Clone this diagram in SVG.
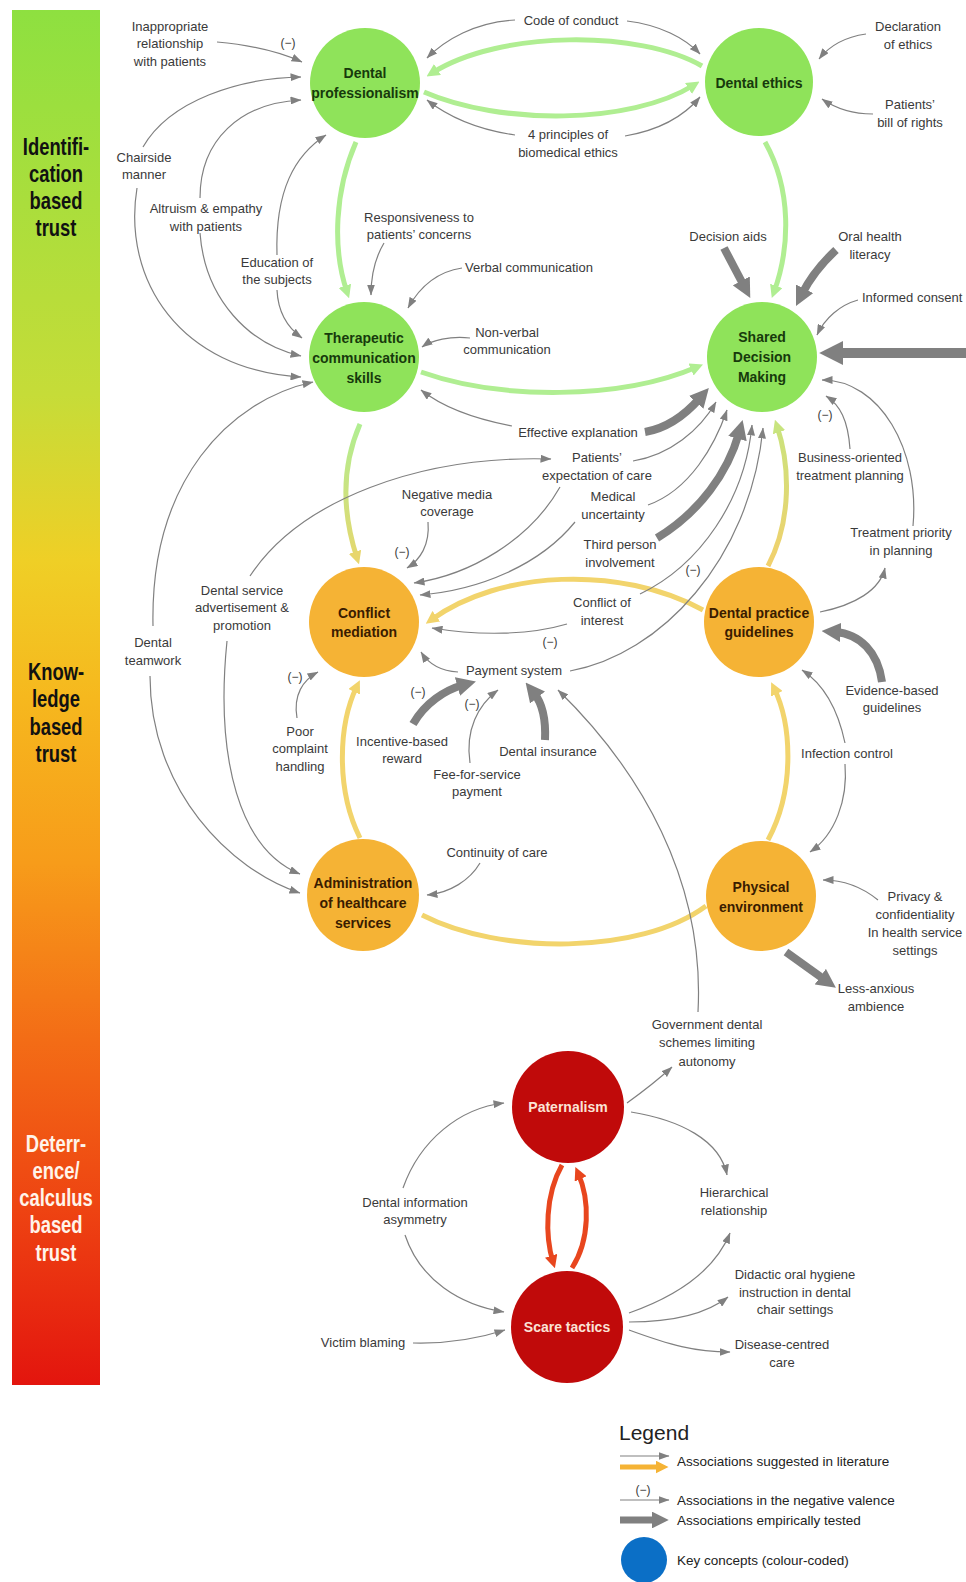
<svg xmlns="http://www.w3.org/2000/svg" width="966" height="1582" viewBox="0 0 966 1582">
<defs>
<style>
.lbl{font-family:"Liberation Sans",Arial,sans-serif;font-size:13px;fill:#3a3a3a;text-anchor:middle}
.neg{font-family:"Liberation Sans",Arial,sans-serif;font-size:12px;fill:#3a3a3a;text-anchor:middle}
.nt{font-family:"Liberation Sans",Arial,sans-serif;font-size:14px;font-weight:bold;text-anchor:middle}
.ng{fill:#8fe35a}
.no{fill:#f5b335}
.nr{fill:#c00a0a}
.tg{fill:#173a0c}
.to{fill:#3a1c00}
.tr{fill:#fbe3d6}
.bar{font-family:"Liberation Sans",Arial,sans-serif;font-size:23px;font-weight:bold;text-anchor:middle}
.ca{fill:none;stroke:#808080;stroke-width:1.2;marker-end:url(#ah)}
.ct{fill:none;stroke:#808080;stroke-width:8;marker-end:url(#ahT)}
.cg{fill:none;stroke:#b0ee92;stroke-width:5;marker-end:url(#ahG)}
.cy{fill:none;stroke:#f2d46c;stroke-width:5;marker-end:url(#ahY)}
.cr{fill:none;stroke:#e8461e;stroke-width:5;marker-end:url(#ahR)}
.leg{font-family:"Liberation Sans",Arial,sans-serif;font-size:13.5px;fill:#222}
</style>
<linearGradient id="trustGrad" x1="0" y1="10" x2="0" y2="1385" gradientUnits="userSpaceOnUse">
<stop offset="0" stop-color="#8ee040"/>
<stop offset="0.28" stop-color="#c6dc38"/>
<stop offset="0.40" stop-color="#efcf26"/>
<stop offset="0.50" stop-color="#f6b81e"/>
<stop offset="0.62" stop-color="#f79c1a"/>
<stop offset="0.75" stop-color="#f36c16"/>
<stop offset="0.87" stop-color="#ee4412"/>
<stop offset="1" stop-color="#e3150e"/>
</linearGradient>
<linearGradient id="gToY" x1="0" y1="424" x2="0" y2="566" gradientUnits="userSpaceOnUse">
<stop offset="0" stop-color="#b0ee92"/>
<stop offset="1" stop-color="#e8d66c"/>
</linearGradient>
<linearGradient id="yToG" x1="0" y1="566" x2="0" y2="420" gradientUnits="userSpaceOnUse">
<stop offset="0" stop-color="#f2d06c"/>
<stop offset="1" stop-color="#c8e47e"/>
</linearGradient>
<marker id="ah" viewBox="0 0 11 8" refX="10.5" refY="4" markerWidth="11" markerHeight="8" markerUnits="userSpaceOnUse" orient="auto">
<path d="M0,0 L11,4 L0,8 z" fill="#808080"/>
</marker>
<marker id="ahT" viewBox="0 0 10 10" refX="3" refY="5" markerWidth="2.4" markerHeight="2.4" markerUnits="strokeWidth" orient="auto">
<path d="M0,0 L10,5 L0,10 z" fill="#808080"/>
</marker>
<marker id="ahG" viewBox="0 0 10 10" refX="5" refY="5" markerWidth="2.6" markerHeight="2.6" markerUnits="strokeWidth" orient="auto">
<path d="M0,0 L10,5 L0,10 z" fill="#b0ee92"/>
</marker>
<marker id="ahGY" viewBox="0 0 10 10" refX="5" refY="5" markerWidth="2.6" markerHeight="2.6" markerUnits="strokeWidth" orient="auto">
<path d="M0,0 L10,5 L0,10 z" fill="#e8d66c"/>
</marker>
<marker id="ahYG" viewBox="0 0 10 10" refX="5" refY="5" markerWidth="2.6" markerHeight="2.6" markerUnits="strokeWidth" orient="auto">
<path d="M0,0 L10,5 L0,10 z" fill="#c8e47e"/>
</marker>
<marker id="ahY" viewBox="0 0 10 10" refX="5" refY="5" markerWidth="2.6" markerHeight="2.6" markerUnits="strokeWidth" orient="auto">
<path d="M0,0 L10,5 L0,10 z" fill="#f2d46c"/>
</marker>
<marker id="ahR" viewBox="0 0 10 10" refX="5" refY="5" markerWidth="2.6" markerHeight="2.6" markerUnits="strokeWidth" orient="auto">
<path d="M0,0 L10,5 L0,10 z" fill="#e8461e"/>
</marker>
<marker id="ahO" viewBox="0 0 10 10" refX="5" refY="5" markerWidth="2.6" markerHeight="2.6" markerUnits="strokeWidth" orient="auto">
<path d="M0,0 L10,5 L0,10 z" fill="#f5b335"/>
</marker>
</defs>

<rect width="966" height="1582" fill="#ffffff"/>

<!-- trust scale bar -->
<g id="trust-scale">
<rect x="12" y="10" width="88" height="1375" fill="url(#trustGrad)"/>
<!-- condensed bold lettering -->
<g transform="translate(56,0) scale(0.8,1)">
<text class="bar" fill="#111"><tspan x="0" y="155">Identifi-</tspan><tspan x="0" y="182">cation</tspan><tspan x="0" y="209">based</tspan><tspan x="0" y="236">trust</tspan></text>
<text class="bar" fill="#111"><tspan x="0" y="680">Know-</tspan><tspan x="0" y="707">ledge</tspan><tspan x="0" y="735">based</tspan><tspan x="0" y="762">trust</tspan></text>
<text class="bar" fill="#fff4ea"><tspan x="0" y="1152">Deterr-</tspan><tspan x="0" y="1179">ence/</tspan><tspan x="0" y="1206">calculus</tspan><tspan x="0" y="1233">based</tspan><tspan x="0" y="1261">trust</tspan></text>
</g>
</g>

<!-- connectors -->
<g id="connectors">
<!-- key concept links -->
<path class="cg" d="M702,66 C640,30 500,30 432,73"/>
<path class="cg" d="M424,92 C500,125 630,125 694,85"/>
<path class="cg" d="M356,142 C335,190 332,248 347,292"/>
<path class="cg" d="M765,142 C792,190 790,248 774,292"/>
<path class="cg" d="M421,372 C500,400 620,400 697,367"/>
<path fill="none" stroke="url(#gToY)" stroke-width="5" marker-end="url(#ahGY)" d="M360,424 C340,470 343,515 357,558"/>
<path fill="none" stroke="url(#yToG)" stroke-width="5" marker-end="url(#ahYG)" d="M768,566 C792,520 790,465 777,426"/>
<path class="cy" d="M703,610 C620,565 500,570 431,620"/>
<path class="cy" d="M360,838 C336,790 338,725 357,686"/>
<path class="cy" d="M768,840 C795,790 792,725 774,688"/>
<path fill="none" stroke="#f2d46c" stroke-width="5" d="M422,915 C500,955 640,955 706,906"/>
<path class="cr" d="M562,1165 C545,1195 545,1236 553,1262"/>
<path class="cr" d="M572,1268 C590,1240 590,1200 578,1173"/>

<!-- empirically tested associations -->
<path class="ct" d="M645,432 C668,428 686,414 700,398"/>
<path class="ct" d="M657,538 C700,512 728,472 739,433"/>
<path class="ct" d="M724,248 L744,286"/>
<path class="ct" d="M836,250 C822,263 810,278 802,294"/>
<path class="ct" style="stroke-width:10" d="M966,353 L836,353"/>
<path class="ct" d="M882,682 C878,652 860,634 835,632"/>
<path class="ct" d="M786,952 L825,980"/>
<path class="ct" d="M413,724 C425,703 445,690 463,685"/>
<path class="ct" d="M545,740 C546,718 542,703 534,693"/>

<!-- associations suggested in literature -->
<path class="ca" d="M217,42 C250,45 280,52 302,62"/>
<path class="ca" d="M143,147 C170,100 240,78 301,77"/>
<path class="ca" d="M137,188 C122,280 180,370 301,377"/>
<path class="ca" d="M200,198 C200,140 240,103 301,100"/>
<path class="ca" d="M200,233 C205,300 250,345 301,356"/>
<path class="ca" d="M277,255 C275,190 295,155 326,135"/>
<path class="ca" d="M277,290 C278,312 288,328 302,338"/>
<path class="ca" d="M153,626 C150,480 230,400 313,382"/>
<path class="ca" d="M150,676 C150,790 230,870 300,893"/>
<path class="ca" d="M250,576 C300,500 420,455 551,459"/>
<path class="ca" d="M227,641 C215,760 240,850 300,874"/>
<path class="ca" d="M297,718 C293,695 303,680 318,672"/>
<path class="ca" d="M384,243 C375,258 371,275 371,295"/>
<path class="ca" d="M462,268 C435,272 418,290 408,308"/>
<path class="ca" d="M470,338 C450,336 432,340 422,347"/>
<path class="ca" d="M512,426 C470,418 440,405 421,390"/>
<path class="ca" d="M633,461 C670,455 700,430 716,402"/>
<path class="ca" d="M560,487 C530,540 470,575 414,583"/>
<path class="ca" d="M648,505 C690,490 715,445 727,410"/>
<path class="ca" d="M575,522 C540,565 480,590 420,595"/>
<path class="ca" d="M640,594 C700,565 745,500 752,425"/>
<path class="ca" d="M567,624 C530,635 480,636 432,628"/>
<path class="ca" d="M458,672 C440,671 428,663 421,652"/>
<path class="ca" d="M570,671 C660,655 750,560 763,428"/>
<path class="ca" d="M850,449 C848,420 840,405 826,396"/>
<path class="ca" d="M913,526 C920,450 880,380 822,380"/>
<path class="ca" d="M820,612 C855,605 880,590 885,568"/>
<path class="ca" d="M845,743 C838,710 825,685 802,670"/>
<path class="ca" d="M845,764 C848,800 835,835 810,852"/>
<path class="ca" d="M878,900 C862,887 845,880 823,880"/>
<path class="ca" d="M480,863 C470,880 450,893 427,895"/>
<path class="ca" d="M698,1012 C705,880 640,770 558,690"/>
<path class="ca" d="M627,1103 C645,1090 660,1078 672,1067"/>
<path class="ca" d="M631,1112 C680,1120 720,1140 727,1175"/>
<path class="ca" d="M629,1313 C680,1295 715,1270 730,1233"/>
<path class="ca" d="M629,1322 C670,1322 705,1315 728,1297"/>
<path class="ca" d="M629,1330 C670,1345 695,1352 730,1352"/>
<path class="ca" d="M403,1188 C420,1140 460,1108 504,1103"/>
<path class="ca" d="M405,1235 C420,1280 460,1305 504,1312"/>
<path class="ca" d="M413,1343 C450,1344 480,1338 505,1330"/>
<path class="ca" d="M515,20 C475,22 445,40 427,58"/>
<path class="ca" d="M627,21 C660,25 685,38 700,54"/>
<path class="ca" d="M515,135 C480,130 450,118 427,100"/>
<path class="ca" d="M625,136 C660,130 685,115 700,97"/>
<path class="ca" d="M866,34 C845,37 830,45 819,59"/>
<path class="ca" d="M873,114 C850,114 835,108 822,99"/>
<path class="ca" d="M858,300 C840,305 825,318 817,335"/>
<path class="ca" d="M428,522 C430,545 420,560 407,568"/>
<path class="ca" d="M470,763 C465,730 478,705 498,690"/>

<!-- negative valence marks -->
<text class="neg" x="288" y="47">(−)</text>
<text class="neg" x="402" y="556">(−)</text>
<text class="neg" x="295" y="681">(−)</text>
<text class="neg" x="418" y="696">(−)</text>
<text class="neg" x="472" y="708">(−)</text>
<text class="neg" x="550" y="646">(−)</text>
<text class="neg" x="693" y="574">(−)</text>
<text class="neg" x="825" y="419">(−)</text>
</g>

<!-- key concepts -->
<g id="node-dental-professionalism">
<circle class="ng" cx="365" cy="83" r="55"/>
<text class="nt tg"><tspan x="365" y="78">Dental</tspan><tspan x="365" y="98">professionalism</tspan></text>
</g>
<g id="node-dental-ethics">
<circle class="ng" cx="759" cy="82" r="54"/>
<text class="nt tg" x="759" y="88">Dental ethics</text>
</g>
<g id="node-therapeutic-communication">
<circle class="ng" cx="364" cy="357" r="55"/>
<text class="nt tg"><tspan x="364" y="343">Therapeutic</tspan><tspan x="364" y="363">communication</tspan><tspan x="364" y="383">skills</tspan></text>
</g>
<g id="node-shared-decision-making">
<circle class="ng" cx="762" cy="357" r="55"/>
<text class="nt tg"><tspan x="762" y="342">Shared</tspan><tspan x="762" y="362">Decision</tspan><tspan x="762" y="382">Making</tspan></text>
</g>
<g id="node-conflict-mediation">
<circle class="no" cx="364" cy="622" r="55"/>
<text class="nt to"><tspan x="364" y="618">Conflict</tspan><tspan x="364" y="637">mediation</tspan></text>
</g>
<g id="node-dental-practice-guidelines">
<circle class="no" cx="759" cy="622" r="55"/>
<text class="nt to"><tspan x="759" y="618">Dental practice</tspan><tspan x="759" y="637">guidelines</tspan></text>
</g>
<g id="node-administration">
<circle class="no" cx="363" cy="895" r="56"/>
<text class="nt to"><tspan x="363" y="888">Administration</tspan><tspan x="363" y="908">of healthcare</tspan><tspan x="363" y="928">services</tspan></text>
</g>
<g id="node-physical-environment">
<circle class="no" cx="761" cy="896" r="55"/>
<text class="nt to"><tspan x="761" y="892">Physical</tspan><tspan x="761" y="912">environment</tspan></text>
</g>
<g id="node-paternalism">
<circle class="nr" cx="568" cy="1107" r="56"/>
<text class="nt tr" x="568" y="1112">Paternalism</text>
</g>
<g id="node-scare-tactics">
<circle class="nr" cx="567" cy="1327" r="56"/>
<text class="nt tr" x="567" y="1332">Scare tactics</text>
</g>

<!-- factors -->
<g id="factors">
<text class="lbl"><tspan x="170" y="31">Inappropriate</tspan><tspan x="170" y="48">relationship</tspan><tspan x="170" y="66">with patients</tspan></text>
<text class="lbl"><tspan x="144" y="162">Chairside</tspan><tspan x="144" y="179">manner</tspan></text>
<text class="lbl"><tspan x="206" y="213">Altruism &amp; empathy</tspan><tspan x="206" y="231">with patients</tspan></text>
<text class="lbl"><tspan x="277" y="267">Education of</tspan><tspan x="277" y="284">the subjects</tspan></text>
<text class="lbl"><tspan x="419" y="222">Responsiveness to</tspan><tspan x="419" y="239">patients’ concerns</tspan></text>
<text class="lbl" style="text-anchor:start" x="465" y="272">Verbal communication</text>
<text class="lbl"><tspan x="507" y="337">Non-verbal</tspan><tspan x="507" y="354">communication</tspan></text>
<text class="lbl" x="571" y="25">Code of conduct</text>
<text class="lbl"><tspan x="568" y="139">4 principles of</tspan><tspan x="568" y="157">biomedical ethics</tspan></text>
<text class="lbl"><tspan x="908" y="31">Declaration</tspan><tspan x="908" y="49">of ethics</tspan></text>
<text class="lbl"><tspan x="910" y="109">Patients’</tspan><tspan x="910" y="127">bill of rights</tspan></text>
<text class="lbl" x="728" y="241">Decision aids</text>
<text class="lbl"><tspan x="870" y="241">Oral health</tspan><tspan x="870" y="259">literacy</tspan></text>
<text class="lbl" style="text-anchor:start" x="862" y="302">Informed consent</text>
<text class="lbl" x="578" y="437">Effective explanation</text>
<text class="lbl"><tspan x="597" y="462">Patients’</tspan><tspan x="597" y="480">expectation of care</tspan></text>
<text class="lbl"><tspan x="447" y="499">Negative media</tspan><tspan x="447" y="516">coverage</tspan></text>
<text class="lbl"><tspan x="613" y="501">Medical</tspan><tspan x="613" y="519">uncertainty</tspan></text>
<text class="lbl"><tspan x="620" y="549">Third person</tspan><tspan x="620" y="567">involvement</tspan></text>
<text class="lbl"><tspan x="850" y="462">Business-oriented</tspan><tspan x="850" y="480">treatment planning</tspan></text>
<text class="lbl"><tspan x="901" y="537">Treatment priority</tspan><tspan x="901" y="555">in planning</tspan></text>
<text class="lbl"><tspan x="242" y="595">Dental service</tspan><tspan x="242" y="612">advertisement &amp;</tspan><tspan x="242" y="630">promotion</tspan></text>
<text class="lbl"><tspan x="153" y="647">Dental</tspan><tspan x="153" y="665">teamwork</tspan></text>
<text class="lbl"><tspan x="602" y="607">Conflict of</tspan><tspan x="602" y="625">interest</tspan></text>
<text class="lbl" x="514" y="675">Payment system</text>
<text class="lbl"><tspan x="300" y="736">Poor</tspan><tspan x="300" y="753">complaint</tspan><tspan x="300" y="771">handling</tspan></text>
<text class="lbl"><tspan x="402" y="746">Incentive-based</tspan><tspan x="402" y="763">reward</tspan></text>
<text class="lbl"><tspan x="477" y="779">Fee-for-service</tspan><tspan x="477" y="796">payment</tspan></text>
<text class="lbl" x="548" y="756">Dental insurance</text>
<text class="lbl"><tspan x="892" y="695">Evidence-based</tspan><tspan x="892" y="712">guidelines</tspan></text>
<text class="lbl" x="847" y="758">Infection control</text>
<text class="lbl" x="497" y="857">Continuity of care</text>
<text class="lbl"><tspan x="915" y="901">Privacy &amp;</tspan><tspan x="915" y="919">confidentiality</tspan><tspan x="915" y="937">In health service</tspan><tspan x="915" y="955">settings</tspan></text>
<text class="lbl"><tspan x="876" y="993">Less-anxious</tspan><tspan x="876" y="1011">ambience</tspan></text>
<text class="lbl"><tspan x="707" y="1029">Government dental</tspan><tspan x="707" y="1047">schemes limiting</tspan><tspan x="707" y="1066">autonomy</tspan></text>
<text class="lbl"><tspan x="734" y="1197">Hierarchical</tspan><tspan x="734" y="1215">relationship</tspan></text>
<text class="lbl"><tspan x="415" y="1207">Dental information</tspan><tspan x="415" y="1224">asymmetry</tspan></text>
<text class="lbl"><tspan x="795" y="1279">Didactic oral hygiene</tspan><tspan x="795" y="1297">instruction in dental</tspan><tspan x="795" y="1314">chair settings</tspan></text>
<text class="lbl"><tspan x="782" y="1349">Disease-centred</tspan><tspan x="782" y="1367">care</tspan></text>
<text class="lbl" x="363" y="1347">Victim blaming</text>
</g>

<!-- legend -->
<g id="legend">
<text font-family="Liberation Sans, Arial, sans-serif" font-size="21" fill="#222" x="619" y="1440">Legend</text>
<path class="ca" d="M620,1456 L669,1456"/>
<path fill="none" stroke="#f5b335" stroke-width="5" marker-end="url(#ahO)" d="M620,1467 L662,1467"/>
<text class="leg" x="677" y="1466">Associations suggested in literature</text>
<text class="neg" x="643" y="1494">(−)</text>
<path class="ca" d="M620,1500 L669,1500"/>
<text class="leg" x="677" y="1505">Associations in the negative valence</text>
<path class="ct" style="stroke-width:7" d="M620,1520 L657,1520"/>
<text class="leg" x="677" y="1525">Associations empirically tested</text>
<circle cx="644" cy="1560" r="23" fill="#0b6fc6"/>
<text class="leg" x="677" y="1565">Key concepts (colour-coded)</text>
</g>
</svg>
